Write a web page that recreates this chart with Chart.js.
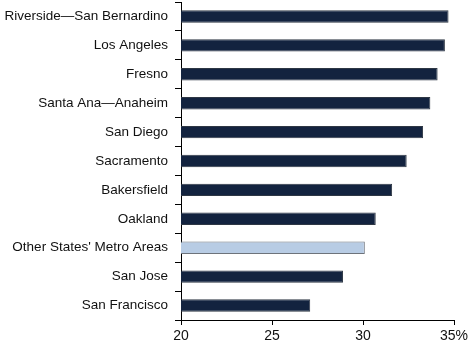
<!DOCTYPE html>
<html>
<head>
<meta charset="utf-8">
<script src="https://cdn.jsdelivr.net/npm/chart.js@4"></script>
<style>
  html, body { margin: 0; padding: 0; background: #fff; }
  #chart { display: block; }
</style>
</head>
<body>
<canvas id="chart" width="475" height="347"></canvas>
<script>
// metro areas, top to bottom
const areas = [
    'Riverside\u2014San Bernardino', 'Los Angeles', 'Fresno', 'Santa Ana\u2014Anaheim',
    'San Diego', 'Sacramento', 'Bakersfield', 'Oakland',
    "Other States' Metro Areas", 'San Jose', 'San Francisco'
];
// share, percent
const shares = [34.7, 34.5, 34.1, 33.7, 33.3, 32.4, 31.6, 30.7, 30.1, 28.9, 27.1];
const xTicks = [20, 25, 30, 35];

const NAVY = '#13233f';
const LIGHT = '#b8cce4';
const highlight = "Other States' Metro Areas";

const fill = areas.map(a => a === highlight ? LIGHT : NAVY);
const edge = areas.map(a => a === highlight ? '#6d737b' : '#2e3744');

const family = '"Liberation Sans", Arial, Helvetica, sans-serif';

new Chart(document.getElementById('chart').getContext('2d'), {
    type: 'bar',
    data: {
        labels: areas,
        datasets: [{
            data: shares,
            backgroundColor: fill,
            borderColor: edge,
            borderWidth: 1,
            borderSkipped: 'left',
            categoryPercentage: 1,
            barPercentage: 0.43
        }]
    },
    options: {
        indexAxis: 'y',
        responsive: false,
        animation: false,
        layout: { padding: { top: 2, right: 21, left: 0, bottom: 0 } },
        plugins: { legend: { display: false }, tooltip: { enabled: false } },
        scales: {
            x: {
                min: 20,
                max: 35,
                afterBuildTicks: (scale) => { scale.ticks = xTicks.map(v => ({ value: v })); },
                afterFit: (scale) => { scale.height = 27; },
                border: { color: '#000', width: 1 },
                grid: { drawOnChartArea: false, tickLength: 5, color: '#000' },
                ticks: {
                    color: '#111',
                    font: { family: family, size: 14 },
                    padding: 3,
                    maxRotation: 0,
                    callback: (v) => v === 35 ? v + '%' : v
                }
            },
            y: {
                afterFit: (scale) => {
                    scale.width = 181;
                    // no extra room above/below for half labels
                    scale.paddingTop = 0;
                    scale.paddingBottom = 0;
                },
                border: { color: '#000', width: 1 },
                grid: { drawOnChartArea: false, tickLength: 6, color: '#000', offset: true },
                ticks: { color: '#111', font: { family: family, size: 13.5 }, padding: 7 }
            }
        }
    }
});
</script>
</body>
</html>
